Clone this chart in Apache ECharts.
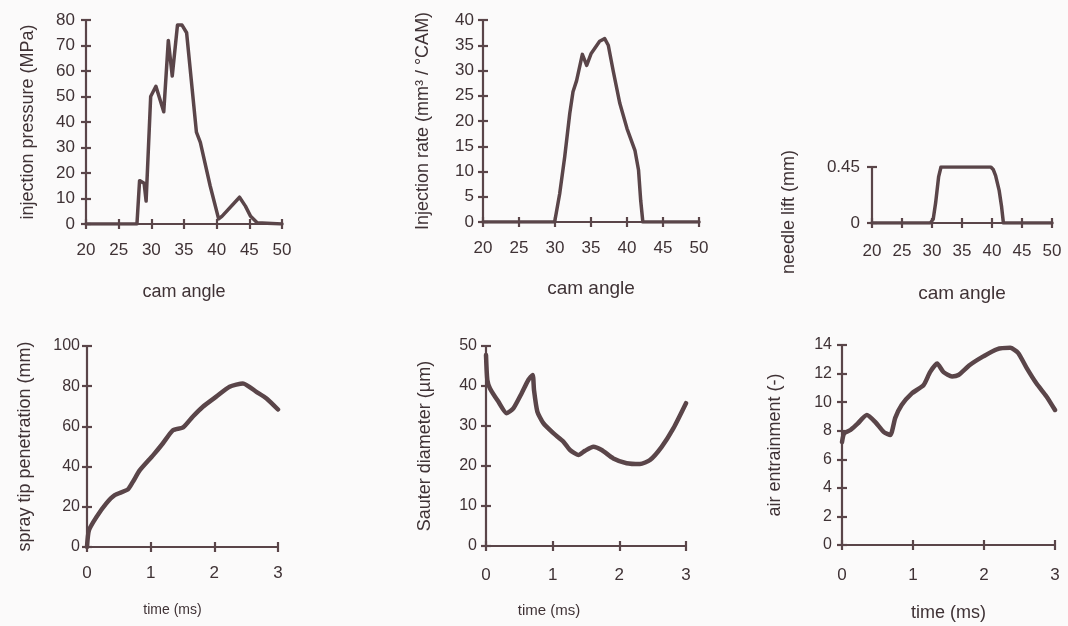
<!DOCTYPE html>
<html>
<head>
<meta charset="utf-8">
<script src="https://cdn.jsdelivr.net/npm/echarts@6/dist/echarts.min.js"></script>
<style>
  html, body { margin: 0; padding: 0; background: #fbfafa; }
  #chart { width: 1068px; height: 626px; }
</style>
</head>
<body>
<div id="chart"></div>
<script>
// top row: cam angle (deg)
const pressureAngle = [20, 27.8, 28.2, 28.9, 29.2, 29.9, 30.7, 31.9, 32.6, 33.2, 34.0, 34.7, 35.4, 36.9, 37.5, 39.0, 40.3, 40.8, 43.5, 44.4, 45.2, 46.2, 50];
const injectionPressure = [0, 0, 17, 16, 9, 50, 54, 44, 72, 58, 78, 78, 75, 36, 32, 15, 2, 3, 10.5, 7, 3, 0.5, 0];

const rateAngle = [20, 29.95, 30.65, 31.35, 32.05, 32.5, 33.0, 33.8, 34.4, 35.0, 36.2, 36.9, 37.4, 38.1, 39.0, 40.0, 41.1, 41.6, 41.9, 42.2, 50];
const injectionRate = [0, 0, 5.6, 12.9, 21.5, 25.8, 28, 33.2, 31, 33.3, 35.8, 36.3, 35, 29.8, 23.5, 18.5, 14.2, 10.3, 4.3, 0, 0];

const liftAngle = [20, 29.7, 30.2, 30.6, 31.1, 31.5, 39.8, 40.2, 40.6, 41.2, 41.6, 41.9, 50];
const needleLift = [0, 0, 0.03, 0.16, 0.37, 0.45, 0.45, 0.43, 0.38, 0.26, 0.13, 0, 0];

// bottom row: time (ms)
const penetrationTime = [0, 0.03, 0.15, 0.30, 0.43, 0.64, 0.72, 0.83, 1.04, 1.19, 1.35, 1.51, 1.66, 1.82, 2.03, 2.24, 2.45, 2.66, 2.82, 3.0];
const tipPenetration = [0, 8.3, 15, 21.6, 25.7, 28.6, 32.4, 38.2, 45.7, 51.5, 58.1, 59.5, 64.8, 69.8, 74.8, 79.7, 81.4, 77.2, 73.9, 68.4];

const sauterTime = [0, 0.02, 0.06, 0.185, 0.31, 0.41, 0.535, 0.635, 0.70, 0.72, 0.77, 0.86, 1.01, 1.16, 1.26, 1.385, 1.485, 1.61, 1.735, 1.91, 2.11, 2.31, 2.46, 2.635, 2.81, 3.0];
const sauterDiameter = [47.75, 41.5, 39.4, 36.1, 33.2, 34.4, 38.2, 41.5, 42.75, 39, 33.6, 30.7, 28.2, 26.1, 24, 22.75, 23.8, 24.8, 24, 21.9, 20.7, 20.5, 21.5, 24.8, 29.4, 35.7];

const airTime = [0, 0.03, 0.12, 0.22, 0.35, 0.47, 0.59, 0.68, 0.75, 0.84, 0.98, 1.15, 1.24, 1.34, 1.43, 1.55, 1.64, 1.80, 1.99, 2.18, 2.37, 2.48, 2.60, 2.74, 2.88, 3.0];
const airEntrainment = [7.2, 7.8, 8.05, 8.5, 9.1, 8.6, 7.9, 7.7, 8.9, 9.8, 10.6, 11.2, 12.1, 12.7, 12.1, 11.8, 11.9, 12.6, 13.2, 13.7, 13.8, 13.45, 12.4, 11.3, 10.4, 9.45];

const INK = '#5a4549';
const TEXT = '#3f3235';
const FONT = '"Liberation Sans", Arial, sans-serif';

const panels = [
  { grid: { left: 86, top: 20, width: 196, height: 204 },
    x: { min: 20, max: 50, interval: 5, name: 'cam angle', margin: 18, gap: 59, size: 17, nameSize: 18 },
    y: { min: 0, max: 80, interval: 10, name: 'injection pressure (MPa)', margin: 11, gap: 49, size: 17 },
    xs: pressureAngle, ys: injectionPressure, width: 3.5, smooth: false },
  { grid: { left: 483, top: 20, width: 216, height: 202 },
    x: { min: 20, max: 50, interval: 5, name: 'cam angle', margin: 18, gap: 57, size: 17, nameSize: 19 },
    y: { min: 0, max: 40, interval: 5, name: 'Injection rate (mm³ / °CAM)', margin: 9, gap: 51, size: 17 },
    xs: rateAngle, ys: injectionRate, width: 3.5, smooth: false },
  { grid: { left: 872, top: 167, width: 180, height: 56 },
    x: { min: 20, max: 50, interval: 5, name: 'cam angle', margin: 20, gap: 61, size: 17, nameSize: 19 },
    y: { min: 0, max: 0.45, interval: 0.45, name: 'needle lift (mm)', margin: 12, gap: 74, size: 17, namePad: [0, 34, 0, 0] },
    xs: liftAngle, ys: needleLift, width: 3.5, smooth: false },
  { grid: { left: 87, top: 346, width: 191, height: 201 },
    x: { min: 0, max: 3, interval: 1, name: 'time (ms)', margin: 18, gap: 56, size: 17, nameSize: 14, namePad: [0, 20, 0, 0] },
    y: { min: 0, max: 100, interval: 20, name: 'spray tip penetration (mm)', margin: 7, gap: 53, size: 16 },
    xs: penetrationTime, ys: tipPenetration, width: 4.5, smooth: 0.2 },
  { grid: { left: 486, top: 346, width: 200, height: 200 },
    x: { min: 0, max: 3, interval: 1, name: 'time (ms)', margin: 21, gap: 57, size: 17, nameSize: 15, namePad: [0, 74, 0, 0] },
    y: { min: 0, max: 50, interval: 10, name: 'Sauter diameter (µm)', margin: 9, gap: 52, size: 16 },
    xs: sauterTime, ys: sauterDiameter, width: 4.5, smooth: 0.2 },
  { grid: { left: 842, top: 345, width: 213, height: 200 },
    x: { min: 0, max: 3, interval: 1, name: 'time (ms)', margin: 22, gap: 59, size: 17, nameSize: 18 },
    y: { min: 0, max: 14, interval: 2, name: 'air entrainment (-)', margin: 10, gap: 58, size: 16 },
    xs: airTime, ys: airEntrainment, width: 4.5, smooth: 0.2 }
];

const grids = [], xAxes = [], yAxes = [], series = [];

panels.forEach((p, i) => {
  grids.push(Object.assign({ containLabel: false }, p.grid));
  const line = { color: INK, width: 2.2 };

  // main axes: line, outer ticks, labels, name
  xAxes.push({
    type: 'value', gridIndex: i, position: 'bottom',
    min: p.x.min, max: p.x.max, interval: p.x.interval,
    axisLine: { show: true, onZero: false, lineStyle: line },
    axisTick: { show: true, length: 5, lineStyle: line },
    axisLabel: { margin: p.x.margin, fontSize: p.x.size, color: TEXT, fontFamily: FONT },
    splitLine: { show: false },
    name: p.x.name, nameLocation: 'middle', nameGap: p.x.gap,
    nameTextStyle: { fontSize: p.x.nameSize, color: TEXT, fontFamily: FONT, padding: p.x.namePad || 0 }
  });
  // second copy only for the inner half of the crossing ticks
  xAxes.push({
    type: 'value', gridIndex: i, position: 'bottom',
    min: p.x.min, max: p.x.max, interval: p.x.interval,
    axisLine: { show: false, onZero: false },
    axisTick: { show: true, inside: true, length: 5, lineStyle: line },
    axisLabel: { show: false }, splitLine: { show: false }
  });
  yAxes.push({
    type: 'value', gridIndex: i, position: 'left',
    min: p.y.min, max: p.y.max, interval: p.y.interval,
    axisLine: { show: true, onZero: false, lineStyle: line },
    axisTick: { show: true, length: 5, lineStyle: line },
    axisLabel: { margin: p.y.margin, fontSize: p.y.size, color: TEXT, fontFamily: FONT },
    splitLine: { show: false },
    name: p.y.name, nameLocation: 'middle', nameGap: p.y.gap,
    nameTextStyle: { fontSize: 18, color: TEXT, fontFamily: FONT, padding: p.y.namePad || 0 }
  });
  yAxes.push({
    type: 'value', gridIndex: i, position: 'left',
    min: p.y.min, max: p.y.max, interval: p.y.interval,
    axisLine: { show: false, onZero: false },
    axisTick: { show: true, inside: true, length: 5, lineStyle: line },
    axisLabel: { show: false }, splitLine: { show: false }
  });

  series.push({
    type: 'line', xAxisIndex: 2 * i, yAxisIndex: 2 * i,
    data: p.xs.map((v, k) => [v, p.ys[k]]),
    showSymbol: false, smooth: p.smooth,
    lineStyle: { color: INK, width: p.width, join: 'round', cap: 'round' },
    z: 3
  });
});

const chart = echarts.init(document.getElementById('chart'), null, { renderer: 'canvas' });
chart.setOption({
  backgroundColor: '#fbfafa',
  animation: false,
  textStyle: { fontFamily: FONT },
  grid: grids,
  xAxis: xAxes,
  yAxis: yAxes,
  series: series
});
</script>
</body>
</html>
